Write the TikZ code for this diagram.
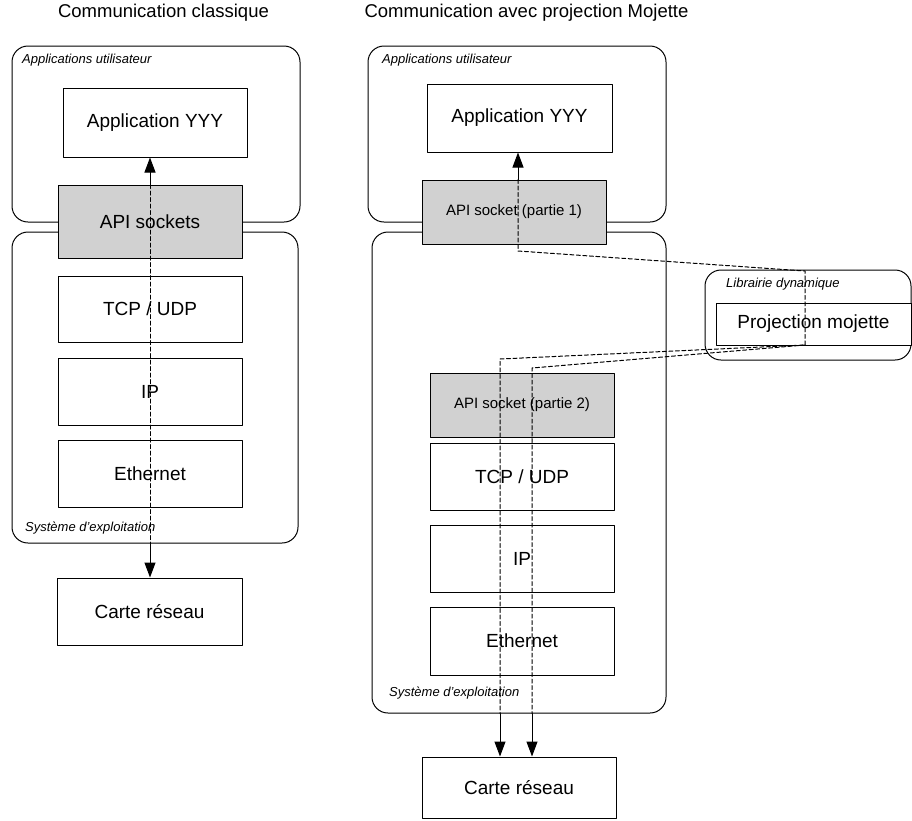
\documentclass[tikz,border=0pt]{standalone}
\usepackage{fontspec}
\setmainfont{Liberation Sans}
\usetikzlibrary{arrows.meta}
\definecolor{grisapi}{rgb}{0.82,0.82,0.82}

\begin{document}
\begin{tikzpicture}[line cap=round,line join=round,>={Triangle[length=15pt,width=11pt]},x=1pt,y=-1pt,
  boite/.style={draw,line width=1pt,fill=white,inner sep=0pt,font=\fontsize{19}{23}\selectfont},
  api/.style={boite,fill=grisapi},
  zone/.style={draw,line width=1pt,rounded corners=16pt,inner sep=0pt},
  etiq/.style={anchor=west,inner sep=0pt,font=\fontsize{13}{15}\selectfont\itshape},
  titre/.style={inner sep=0pt,font=\fontsize{18.5}{22}\selectfont},
  flux/.style={line width=1pt,dash pattern=on 4pt off 2.5pt}]
\useasboundingbox (0,0) rectangle (912,820);
% titres
\node[titre] (t1) at (163.5,13) {Communication classique};
\node[titre] (t2) at (526.5,13) {Communication avec projection Mojette};
% zones
\node[zone,minimum width=288pt,minimum height=176pt] (user1) at (156,134) {};
\node[zone,minimum width=286pt,minimum height=311pt] (sys1) at (155,387.5) {};
\node[zone,minimum width=298pt,minimum height=176pt] (user2) at (517,134) {};
\node[zone,minimum width=294pt,minimum height=481pt] (sys2) at (519,472.5) {};
\node[zone,minimum width=206pt,minimum height=90pt] (lib) at (808,315) {};
\node[etiq] (lu1) at (22,60) {Applications utilisateur};
\node[etiq] (ls1) at (25,528) {Système d'exploitation};
\node[etiq] (lu2) at (382,60) {Applications utilisateur};
\node[etiq] (ls2) at (389,693) {Système d'exploitation};
\node[etiq] (ll) at (726,284) {Librairie dynamique};
% communication classique
\node[boite,minimum width=184pt,minimum height=69pt] (app1) at (155,122.5) {Application YYY};
\node[api,minimum width=184pt,minimum height=73pt] (api1) at (150,221.5) {API sockets};
\node[boite,minimum width=184pt,minimum height=66pt] (tcp1) at (150,309) {TCP / UDP};
\node[boite,minimum width=184pt,minimum height=67pt] (ip1) at (150,391.5) {IP};
\node[boite,minimum width=184pt,minimum height=67pt] (eth1) at (150,473.5) {Ethernet};
\node[boite,minimum width=185pt,minimum height=67pt] (carte1) at (149.5,611.5) {Carte réseau};
\draw[->,line width=1pt] (api1.north) -- (api1.north |- app1.south);
\draw[flux] (api1.north) -- (api1.north |- sys1.south);
\draw[->,line width=1pt] (api1.north |- sys1.south) -- (api1.north |- carte1.north);
% communication avec projection Mojette
\node[boite,minimum width=185pt,minimum height=68pt] (app2) at (519.5,118) {Application YYY};
\node[api,minimum width=184pt,minimum height=64pt,font=\fontsize{15}{18}\selectfont] (api2a) at (514,212) {API socket (partie 1)};
\node[boite,minimum width=195pt,minimum height=42pt] (proj) at (813.5,324) {Projection mojette};
\node[api,minimum width=184pt,minimum height=64pt,font=\fontsize{15}{18}\selectfont] (api2b) at (522,405) {API socket (partie 2)};
\node[boite,minimum width=184pt,minimum height=67pt] (tcp2) at (522,476.5) {TCP / UDP};
\node[boite,minimum width=184pt,minimum height=67pt] (ip2) at (522,558.5) {IP};
\node[boite,minimum width=184pt,minimum height=68pt] (eth2) at (522,641) {Ethernet};
\node[boite,minimum width=194pt,minimum height=61pt] (carte2) at (519,787.5) {Carte réseau};
\coordinate (p1) at (518,251);
\coordinate (p2) at (805,271);
\coordinate (p3) at (805,345);
\coordinate (p4) at (500,359);
\coordinate (p5) at (532,368);
\draw[->,line width=1pt] (p1 |- api2a.north) -- (p1 |- app2.south);
\draw[flux] (p1 |- api2a.north) -- (p1) -- (p2) -- (p3) -- (p4) -- (p4 |- sys2.south);
\draw[flux] (p3) -- (p5) -- (p5 |- sys2.south);
\draw[->,line width=1pt] (p4 |- sys2.south) -- (p4 |- carte2.north);
\draw[->,line width=1pt] (p5 |- sys2.south) -- (p5 |- carte2.north);
\end{tikzpicture}
\end{document}
